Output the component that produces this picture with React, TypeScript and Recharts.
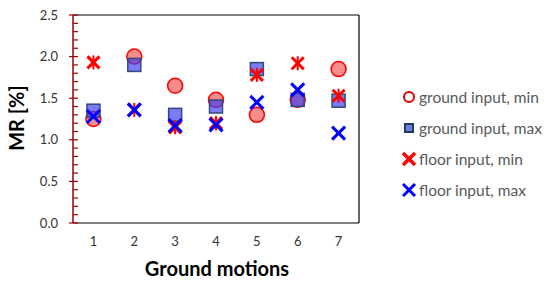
import React from 'react';
import { ScatterChart, Scatter, XAxis, YAxis, ReferenceLine } from 'recharts';

const motions = [1, 2, 3, 4, 5, 6, 7];
const groundMin = [1.25, 2.0, 1.65, 1.48, 1.3, 1.48, 1.85];
const groundMax = [1.35, 1.9, 1.3, 1.4, 1.85, 1.48, 1.47];
const floorMin = [1.93, 1.36, 1.15, 1.2, 1.78, 1.92, 1.53];
const floorMax = [1.28, 1.36, 1.17, 1.18, 1.45, 1.6, 1.08];
const yTicks = [0, 0.1, 0.2, 0.3, 0.4, 0.5, 0.6, 0.7, 0.8, 0.9, 1.0, 1.1, 1.2, 1.3, 1.4, 1.5, 1.6, 1.7, 1.8, 1.9, 2.0, 2.1, 2.2, 2.3, 2.4, 2.5];
const yLabels = [0, 0.5, 1.0, 1.5, 2.0, 2.5];
const seriesNames = ['ground input, min', 'ground input, max', 'floor input, min', 'floor input, max'];

const toData = (vals: number[]) => motions.map((m, i) => ({ x: m, y: vals[i] }));

const FONT = 'Lato, "Open Sans", sans-serif';
const AXIS_RED = '#A00000';

const CircleShape = (p: any) => (
  <circle cx={p.cx} cy={p.cy} r={7.5} fill="rgba(238,0,0,0.45)" stroke="#FF0000" strokeWidth={1.5} />
);
const SquareShape = (p: any) => (
  <rect x={p.cx - 6.5} y={p.cy - 6.5} width={13} height={13} fill="rgba(60,60,245,0.68)" stroke="#2F4B7C" strokeWidth={1.5} />
);
const AsteriskShape = (p: any) => (
  <g stroke="#FF0000" strokeWidth={3}>
    <line x1={p.cx - 6} y1={p.cy - 6} x2={p.cx + 6} y2={p.cy + 6} />
    <line x1={p.cx - 6} y1={p.cy + 6} x2={p.cx + 6} y2={p.cy - 6} />
    <line x1={p.cx} y1={p.cy - 7} x2={p.cx} y2={p.cy + 7} strokeWidth={2} />
  </g>
);
const CrossShape = (p: any) => (
  <g stroke="#0000FF" strokeWidth={3}>
    <line x1={p.cx - 6.5} y1={p.cy - 6.5} x2={p.cx + 6.5} y2={p.cy + 6.5} />
    <line x1={p.cx - 6.5} y1={p.cy + 6.5} x2={p.cx + 6.5} y2={p.cy - 6.5} />
  </g>
);

const YTick = (p: any) => {
  const v = p.payload.value;
  const major = yLabels.some((l) => Math.abs(l - v) < 1e-6);
  return (
    <g>
      <line x1={major ? p.x - 4 : p.x} x2={p.x + 5} y1={p.y} y2={p.y} stroke={AXIS_RED} strokeWidth={1.2} />
      {major && (
        <text x={p.x - 15} y={p.y} dy={4.5} textAnchor="end" fontSize={13} fill="#333" fontFamily={FONT}>
          {v.toFixed(1)}
        </text>
      )}
    </g>
  );
};

const legendIcons = [
  <circle cx={7} cy={0} r={5} fill="none" stroke="#E00000" strokeWidth={2} />,
  <g>
    <rect x={2} y={-5} width={10} height={10} fill="#1F3864" />
    <rect x={4} y={-3} width={6} height={6} fill="#6F7FE0" />
  </g>,
  <g stroke="#FF0000" strokeWidth={3.5}>
    <line x1={1} y1={-6} x2={13} y2={6} />
    <line x1={1} y1={6} x2={13} y2={-6} />
  </g>,
  <g stroke="#0000FF" strokeWidth={3}>
    <line x1={1} y1={-6} x2={13} y2={6} />
    <line x1={1} y1={6} x2={13} y2={-6} />
  </g>,
];

export default function App() {
  return (
    <div style={{ position: 'absolute', left: 0, top: 0, width: 550, height: 284, background: '#fff' }}>
      <ScatterChart width={550} height={284} margin={{ top: 15, right: 191, bottom: 31, left: 33 }}>
        <XAxis
          type="number"
          dataKey="x"
          domain={[0.5, 7.5]}
          ticks={motions}
          tickLine={false}
          axisLine={{ stroke: '#000', strokeWidth: 1.2 }}
          height={30}
          tickMargin={8}
          tick={{ fontSize: 13, fill: '#333', fontFamily: FONT }}
          allowDataOverflow
        />
        <YAxis
          type="number"
          dataKey="y"
          domain={[0, 2.5]}
          ticks={yTicks}
          interval={0}
          tickLine={false}
          tickSize={0}
          tickMargin={0}
          axisLine={{ stroke: AXIS_RED, strokeWidth: 1.5 }}
          width={40}
          tick={<YTick />}
          allowDataOverflow
        />
        <ReferenceLine y={2.5} stroke="#000" strokeWidth={1.2} />
        <ReferenceLine x={7.5} stroke="#000" strokeWidth={1.2} />
        <Scatter data={toData(groundMin)} shape={CircleShape} isAnimationActive={false} />
        <Scatter data={toData(groundMax)} shape={SquareShape} isAnimationActive={false} />
        <Scatter data={toData(floorMin)} shape={AsteriskShape} isAnimationActive={false} />
        <Scatter data={toData(floorMax)} shape={CrossShape} isAnimationActive={false} />
      </ScatterChart>
      <div
        style={{
          position: 'absolute', left: 16, top: 118, transform: 'translate(-50%, -50%) rotate(-90deg)',
          fontFamily: FONT, fontWeight: 'bold', fontSize: 20, color: '#000', whiteSpace: 'nowrap',
        }}
      >
        MR [%]
      </div>
      <div
        style={{
          position: 'absolute', left: 217, top: 268, transform: 'translate(-50%, -50%)',
          fontFamily: FONT, fontWeight: 'bold', fontSize: 20, color: '#000', whiteSpace: 'nowrap',
        }}
      >
        Ground motions
      </div>
      {seriesNames.map((name, i) => (
        <div
          key={name}
          style={{
            position: 'absolute', left: 402, top: 97 + i * 31, transform: 'translateY(-50%)',
            display: 'flex', alignItems: 'center', fontFamily: FONT, fontSize: 15.5, color: '#595959', whiteSpace: 'nowrap',
          }}
        >
          <svg width={16} height={16} viewBox="0 -8 16 16" style={{ marginRight: 1 }}>
            {legendIcons[i]}
          </svg>
          {name}
        </div>
      ))}
    </div>
  );
}
